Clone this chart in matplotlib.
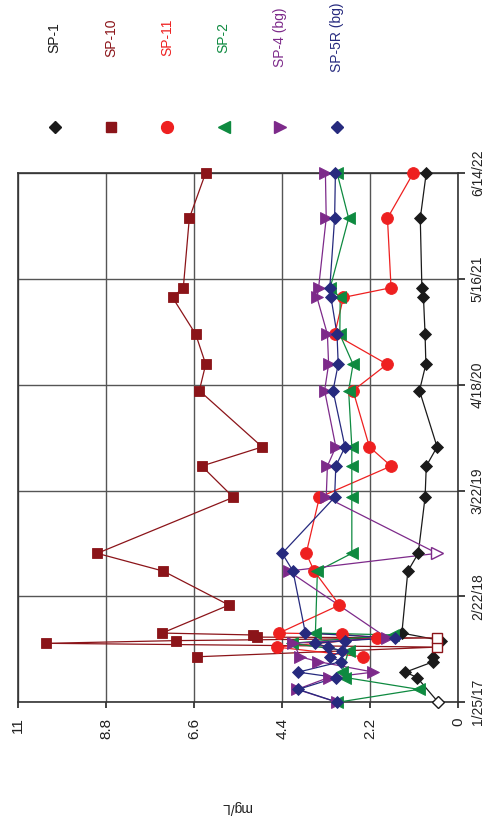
import numpy as np
import pandas as pd
import matplotlib
matplotlib.use("Agg")
import matplotlib.pyplot as plt
from matplotlib.lines import Line2D

plt.rcParams['font.family'] = ['Liberation Sans', 'DejaVu Sans']

# mg/L axis (drawn along the bottom, reversed) and date axis (drawn on the right)
conc_ticks = [0, 2.2, 4.4, 6.6, 8.8, 11]
conc_labels = ['0', '2.2', '4.4', '6.6', '8.8', '11']
date_ticks = ['2017-01-25', '2018-02-22', '2019-03-22', '2020-04-18', '2021-05-16', '2022-06-14']
date_labels = ['1/25/17', '2/22/18', '3/22/19', '4/18/20', '5/16/21', '6/14/22']

# SP-1
sp1_dates = ['2017-01-25', '2017-04-27', '2017-05-17', '2017-06-25', '2017-07-13', '2017-09-11',
             '2017-10-09', '2018-05-27', '2018-08-01', '2019-02-25', '2019-06-21', '2019-08-31',
             '2020-03-27', '2020-07-03', '2020-10-22', '2021-03-08', '2021-04-13', '2021-12-27',
             '2022-06-14']
sp1_vals = [0.5, 1.03, 1.32, 0.62, 0.64, 0.42, 1.41, 1.26, 1.0, 0.83, 0.8, 0.53,
            0.97, 0.81, 0.83, 0.87, 0.91, 0.95, 0.8]
sp1_nd = ['2017-01-25']

# SP-10
sp10_dates = ['2017-07-13', '2017-08-18', '2017-09-01', '2017-09-11', '2017-09-21', '2017-09-24',
              '2017-10-02', '2017-10-09', '2018-01-21', '2018-05-27', '2018-08-01', '2019-02-25',
              '2019-06-21', '2019-08-31', '2020-03-27', '2020-07-03', '2020-10-22', '2021-03-08',
              '2021-04-13', '2021-12-27', '2022-06-14']
sp10_vals = [6.53, 0.52, 10.3, 7.05, 0.52, 5.03, 5.13, 7.4, 5.73, 7.37, 9.02, 5.62,
             6.41, 4.9, 6.47, 6.31, 6.56, 7.14, 6.87, 6.72, 6.31]
sp10_nd = ['2017-08-18', '2017-09-21']

# SP-11
sp11_dates = ['2017-07-13', '2017-08-18', '2017-09-21', '2017-10-05', '2017-10-09', '2018-01-21',
              '2018-05-27', '2018-08-01', '2019-02-25', '2019-06-21', '2019-08-31', '2020-03-27',
              '2020-07-03', '2020-10-22', '2021-03-08', '2021-04-13', '2021-12-27', '2022-06-14']
sp11_vals = [2.39, 4.54, 2.03, 2.91, 4.48, 2.97, 3.6, 3.8, 3.47, 1.68, 2.22, 2.63,
             1.78, 3.09, 2.87, 1.68, 1.77, 1.12]
sp11_nd = []

# SP-2
sp2_dates = ['2017-01-25', '2017-03-14', '2017-04-27', '2017-05-17', '2017-08-03', '2017-09-01',
             '2017-10-02', '2017-10-09', '2018-05-27', '2018-08-01', '2019-02-25', '2019-06-21',
             '2019-08-31', '2020-03-27', '2020-07-03', '2020-10-22', '2021-03-08', '2021-04-13',
             '2021-12-27', '2022-06-14']
sp2_vals = [3.02, 0.99, 2.82, 2.91, 2.74, 4.16, 1.62, 3.57, 3.52, 2.66, 2.66, 2.66,
            2.66, 2.74, 2.63, 2.96, 2.95, 3.2, 2.74, 3.03]
sp2_nd = []

# SP-4 (bg)
sp4_dates = ['2017-01-25', '2017-03-14', '2017-04-27', '2017-05-17', '2017-06-25', '2017-07-13',
             '2017-09-01', '2017-09-21', '2018-05-27', '2018-08-01', '2019-02-25', '2019-06-21',
             '2019-08-31', '2020-03-27', '2020-07-03', '2020-10-22', '2021-03-08', '2021-04-13',
             '2021-12-27', '2022-06-14']
sp4_vals = [3.02, 4.03, 3.24, 2.12, 3.5, 3.95, 4.12, 1.78, 4.24, 0.53, 3.3, 3.27,
            3.06, 3.34, 3.24, 3.27, 3.53, 3.49, 3.3, 3.32]
sp4_nd = ['2018-08-01']

# SP-5R (bg)
sp5_dates = ['2017-01-25', '2017-03-14', '2017-04-27', '2017-05-17', '2017-06-25', '2017-07-13',
             '2017-08-03', '2017-08-18', '2017-09-01', '2017-09-11', '2017-09-21', '2017-10-09',
             '2018-05-27', '2018-08-01', '2019-02-25', '2019-06-21', '2019-08-31', '2020-03-27',
             '2020-07-03', '2020-10-22', '2021-03-08', '2021-04-13', '2021-12-27', '2022-06-14']
sp5_vals = [3.02, 4.0, 3.05, 4.0, 2.93, 3.2, 2.9, 3.26, 3.57, 2.82, 1.57, 3.82,
            4.13, 4.4, 3.09, 3.06, 2.83, 3.13, 3.0, 3.03, 3.18, 3.21, 3.09, 3.07]
sp5_nd = []

series = [
    ('SP-1', sp1_dates, sp1_vals, sp1_nd, '#1a1a1a', 'D', 6.5),
    ('SP-10', sp10_dates, sp10_vals, sp10_nd, '#8b1419', 's', 7.5),
    ('SP-11', sp11_dates, sp11_vals, sp11_nd, '#ee2020', 'o', 8.5),
    ('SP-2', sp2_dates, sp2_vals, sp2_nd, '#0e8a40', '<', 8),
    ('SP-4 (bg)', sp4_dates, sp4_vals, sp4_nd, '#7d2a8a', '>', 8),
    ('SP-5R (bg)', sp5_dates, sp5_vals, sp5_nd, '#262a7e', 'D', 6.5),
]

fig = plt.figure(figsize=(4.86, 8.23), dpi=100)
ax = fig.add_axes([18 / 486, 1 - 702.3 / 823, 440.3 / 486, 529.6 / 823])

for name, dates, vals, nd, color, marker, ms in series:
    d = pd.to_datetime(dates)
    v = np.array(vals)
    is_nd = np.isin(np.array(dates), nd)
    ax.plot(v, d, '-', color=color, lw=0.9, clip_on=False, zorder=3)
    ax.plot(v[~is_nd], d[~is_nd], ls='none', marker=marker, ms=ms, color=color,
            mec=color, mew=0.6, clip_on=False, zorder=4)
    if is_nd.any():
        ax.plot(v[is_nd], d[is_nd], ls='none', marker=marker, ms=ms, mfc='white',
                mec=color, mew=1.0, clip_on=False, zorder=4)

ax.set_xlim(11, 0)
ax.set_xticks(conc_ticks)
ax.set_xticklabels(conc_labels, rotation=90, fontsize=11)
ax.tick_params(axis='x', direction='out', length=4, width=1.2, pad=7, colors='#222222')

ax.yaxis.tick_right()
ax.set_ylim(pd.Timestamp(date_ticks[0]), pd.Timestamp(date_ticks[-1]))
ax.set_yticks(pd.to_datetime(date_ticks))
ax.set_yticklabels(date_labels, rotation=90, va='center', fontsize=10)
ax.tick_params(axis='y', direction='out', length=5, width=1.2, pad=4, colors='#222222')

ax.grid(True, color='#555555', lw=1.0)
ax.set_axisbelow(True)
for sp in ax.spines.values():
    sp.set_color('#333333')
    sp.set_linewidth(1.2)

fig.text(237 / 486, 1 - 807 / 823, 'mg/L', rotation=180, ha='center', va='center',
         fontsize=10, color='#222222')

# legend laid out across the top, markers below rotated names
leg_x = [54.5, 111, 167.3, 223.5, 280, 336.5]
for (name, dates, vals, nd, color, marker, ms), lx in zip(series, leg_x):
    fig.add_artist(Line2D([lx / 486], [1 - 127 / 823], transform=fig.transFigure,
                          ls='none', marker=marker, ms=ms, color=color, mec=color))
    fig.text(lx / 486, 1 - 37.5 / 823, name, rotation=90, ha='center', va='center',
             fontsize=10, color=color)

fig.savefig('out.png', dpi=100)
